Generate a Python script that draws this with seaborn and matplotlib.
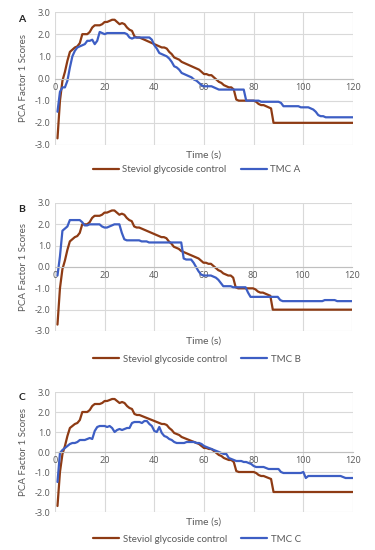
import matplotlib
matplotlib.use("Agg")
import matplotlib.pyplot as plt
from matplotlib.lines import Line2D
import numpy as np
import pandas as pd
import seaborn as sns

sns.set_style("white")
plt.rcParams['font.family'] = ['Lato', 'DejaVu Sans']

time_s = list(range(1, 121))

control = [
    -2.7, -1.0, -0.1, 0.3, 0.8, 1.2, 1.3, 1.4, 1.45, 1.6,
    2.0, 2.0, 2.0, 2.1, 2.3, 2.4, 2.4, 2.4, 2.45, 2.55,
    2.55, 2.6, 2.65, 2.65, 2.55, 2.45, 2.5, 2.45, 2.3, 2.2,
    2.15, 1.9, 1.85, 1.85, 1.8, 1.75, 1.7, 1.65, 1.6, 1.55,
    1.5, 1.45, 1.4, 1.4, 1.35, 1.2, 1.1, 0.95, 0.9, 0.85,
    0.75, 0.7, 0.65, 0.6, 0.55, 0.5, 0.45, 0.4, 0.3, 0.2,
    0.2, 0.15, 0.15, 0.05, -0.05, -0.15, -0.2, -0.3, -0.35, -0.4,
    -0.4, -0.5, -0.95, -1.0, -1.0, -1.0, -1.0, -1.0, -1.0, -1.0,
    -1.05, -1.15, -1.2, -1.2, -1.25, -1.3, -1.35, -2.0, -2.0, -2.0,
    -2.0, -2.0, -2.0, -2.0, -2.0, -2.0, -2.0, -2.0, -2.0, -2.0,
    -2.0, -2.0, -2.0, -2.0, -2.0, -2.0, -2.0, -2.0, -2.0, -2.0,
    -2.0, -2.0, -2.0, -2.0, -2.0, -2.0, -2.0, -2.0, -2.0, -2.0,
]

tmc_a = [
    -1.5, -0.6, -0.4, -0.4, -0.1, 0.5, 1.0, 1.25, 1.4, 1.45,
    1.5, 1.55, 1.7, 1.7, 1.75, 1.55, 1.7, 2.1, 2.05, 2.0,
    2.05, 2.05, 2.05, 2.05, 2.05, 2.05, 2.05, 2.05, 2.0, 1.85,
    1.8, 1.85, 1.85, 1.85, 1.85, 1.85, 1.85, 1.85, 1.75, 1.5,
    1.35, 1.15, 1.1, 1.05, 1.0, 0.9, 0.75, 0.55, 0.5, 0.4,
    0.25, 0.2, 0.15, 0.1, 0.05, -0.05, -0.1, -0.2, -0.3, -0.35,
    -0.35, -0.35, -0.35, -0.4, -0.45, -0.5, -0.5, -0.5, -0.5, -0.5,
    -0.5, -0.5, -0.5, -0.5, -0.5, -0.5, -1.0, -1.0, -1.0, -1.0,
    -1.0, -1.0, -1.05, -1.05, -1.05, -1.05, -1.05, -1.05, -1.05, -1.05,
    -1.1, -1.25, -1.25, -1.25, -1.25, -1.25, -1.25, -1.25, -1.3, -1.3,
    -1.3, -1.3, -1.35, -1.4, -1.5, -1.65, -1.7, -1.7, -1.75, -1.75,
    -1.75, -1.75, -1.75, -1.75, -1.75, -1.75, -1.75, -1.75, -1.75, -1.75,
]

tmc_b = [
    -0.4, 0.5, 1.7, 1.8, 1.9, 2.2, 2.2, 2.2, 2.2, 2.2,
    2.1, 1.95, 1.95, 2.0, 2.0, 2.0, 2.0, 2.0, 1.9, 1.85,
    1.85, 1.9, 1.95, 2.0, 2.0, 2.0, 1.6, 1.3, 1.25, 1.25,
    1.25, 1.25, 1.25, 1.25, 1.2, 1.2, 1.2, 1.15, 1.15, 1.15,
    1.15, 1.15, 1.15, 1.15, 1.15, 1.15, 1.15, 1.15, 1.15, 1.15,
    1.15, 0.4, 0.35, 0.35, 0.35, 0.2, 0.0, -0.2, -0.35, -0.4,
    -0.4, -0.4, -0.4, -0.45, -0.5, -0.6, -0.75, -0.9, -0.9, -0.9,
    -0.9, -0.95, -0.95, -0.95, -0.95, -0.95, -0.95, -1.2, -1.4, -1.4,
    -1.4, -1.4, -1.4, -1.4, -1.4, -1.4, -1.4, -1.4, -1.4, -1.4,
    -1.55, -1.6, -1.6, -1.6, -1.6, -1.6, -1.6, -1.6, -1.6, -1.6,
    -1.6, -1.6, -1.6, -1.6, -1.6, -1.6, -1.6, -1.6, -1.55, -1.55,
    -1.55, -1.55, -1.55, -1.6, -1.6, -1.6, -1.6, -1.6, -1.6, -1.6,
]

tmc_c = [
    -1.5, -0.05, 0.1, 0.2, 0.3, 0.4, 0.45, 0.45, 0.5, 0.6,
    0.6, 0.6, 0.65, 0.7, 0.65, 1.05, 1.25, 1.3, 1.3, 1.3,
    1.25, 1.3, 1.2, 1.0, 1.1, 1.15, 1.1, 1.15, 1.2, 1.2,
    1.45, 1.5, 1.5, 1.5, 1.45, 1.55, 1.55, 1.4, 1.3, 1.05,
    1.0, 1.25, 0.95, 0.8, 0.75, 0.65, 0.6, 0.5, 0.45, 0.45,
    0.45, 0.45, 0.5, 0.5, 0.5, 0.5, 0.45, 0.45, 0.4, 0.3,
    0.25, 0.2, 0.15, 0.1, 0.05, 0.0, -0.05, -0.1, -0.1, -0.3,
    -0.35, -0.4, -0.45, -0.45, -0.45, -0.5, -0.5, -0.55, -0.6, -0.7,
    -0.75, -0.75, -0.75, -0.75, -0.8, -0.85, -0.85, -0.85, -0.85, -0.85,
    -1.0, -1.05, -1.05, -1.05, -1.05, -1.05, -1.05, -1.05, -1.05, -1.0,
    -1.3, -1.2, -1.2, -1.2, -1.2, -1.2, -1.2, -1.2, -1.2, -1.2,
    -1.2, -1.2, -1.2, -1.2, -1.2, -1.25, -1.3, -1.3, -1.3, -1.3,
]

x_ticks = [0, 20, 40, 60, 80, 100, 120]
y_ticks = [-3.0, -2.0, -1.0, 0.0, 1.0, 2.0, 3.0]
control_name = "Steviol glycoside control"

BROWN = "#8E3B14"
BLUE = "#3D5EC4"
GRID = "#d9d9d9"
TXT = "#595959"

W, H = 375, 550
fig = plt.figure(figsize=(W / 100, H / 100), dpi=100)

panels = [
    ("A", tmc_a, "TMC A", (55, 12, 353, 145), 170, 19),
    ("B", tmc_b, "TMC B", (55, 203, 352, 331), 359, 209),
    ("C", tmc_c, "TMC C", (55, 392, 353, 512), 539, 397),
]

for letter, vals, name, (l, t, r, b), leg_y, let_y in panels:
    ax = fig.add_axes([l / W, 1 - b / H, (r - l) / W, (b - t) / H])
    df = pd.DataFrame({
        "time": time_s * 2,
        "score": control + vals,
        "series": [control_name] * len(control) + [name] * len(vals),
    })
    sns.lineplot(data=df, x="time", y="score", hue="series",
                 palette={control_name: BROWN, name: BLUE},
                 ax=ax, linewidth=1.6, legend=False)
    for s in ["top", "right", "left"]:
        ax.spines[s].set_visible(False)
    ax.spines["bottom"].set_position(("data", 0))
    ax.spines["bottom"].set_color("#bfbfbf")
    ax.spines["bottom"].set_linewidth(0.8)
    ax.set_xlim(0, 120)
    ax.set_ylim(-3, 3)
    ax.set_xticks(x_ticks)
    ax.set_xticklabels([str(v) for v in x_ticks])
    ax.set_yticks(y_ticks)
    ax.set_yticklabels([f"{v:.1f}" for v in y_ticks])
    ax.grid(True, color=GRID, linewidth=0.8)
    ax.set_axisbelow(True)
    ax.tick_params(length=0, colors=TXT, pad=3, labelsize=6.6,
                   labelfontfamily="Open Sans")
    ax.set_xlabel("")
    ax.set_ylabel("PCA Factor 1 Scores", fontsize=7, color=TXT, labelpad=5)
    ax.text(0.5, -0.045, "Time (s)", transform=ax.transAxes, ha="center",
            va="top", fontsize=7.5, color=TXT)
    fig.text(22 / W, 1 - let_y / H, letter, fontsize=7.5, fontweight="bold",
             ha="center", va="center", color="#222222")
    handles = [Line2D([0], [0], color=BROWN, lw=1.6),
               Line2D([0], [0], color=BLUE, lw=1.6)]
    fig.legend(handles, [control_name, name], loc="center",
               bbox_to_anchor=(197 / W, 1 - leg_y / H), ncol=2,
               frameon=False, fontsize=7, handlelength=2.6,
               columnspacing=1.5, handletextpad=0.4, labelcolor=TXT)

fig.savefig("out.png", dpi=100)
